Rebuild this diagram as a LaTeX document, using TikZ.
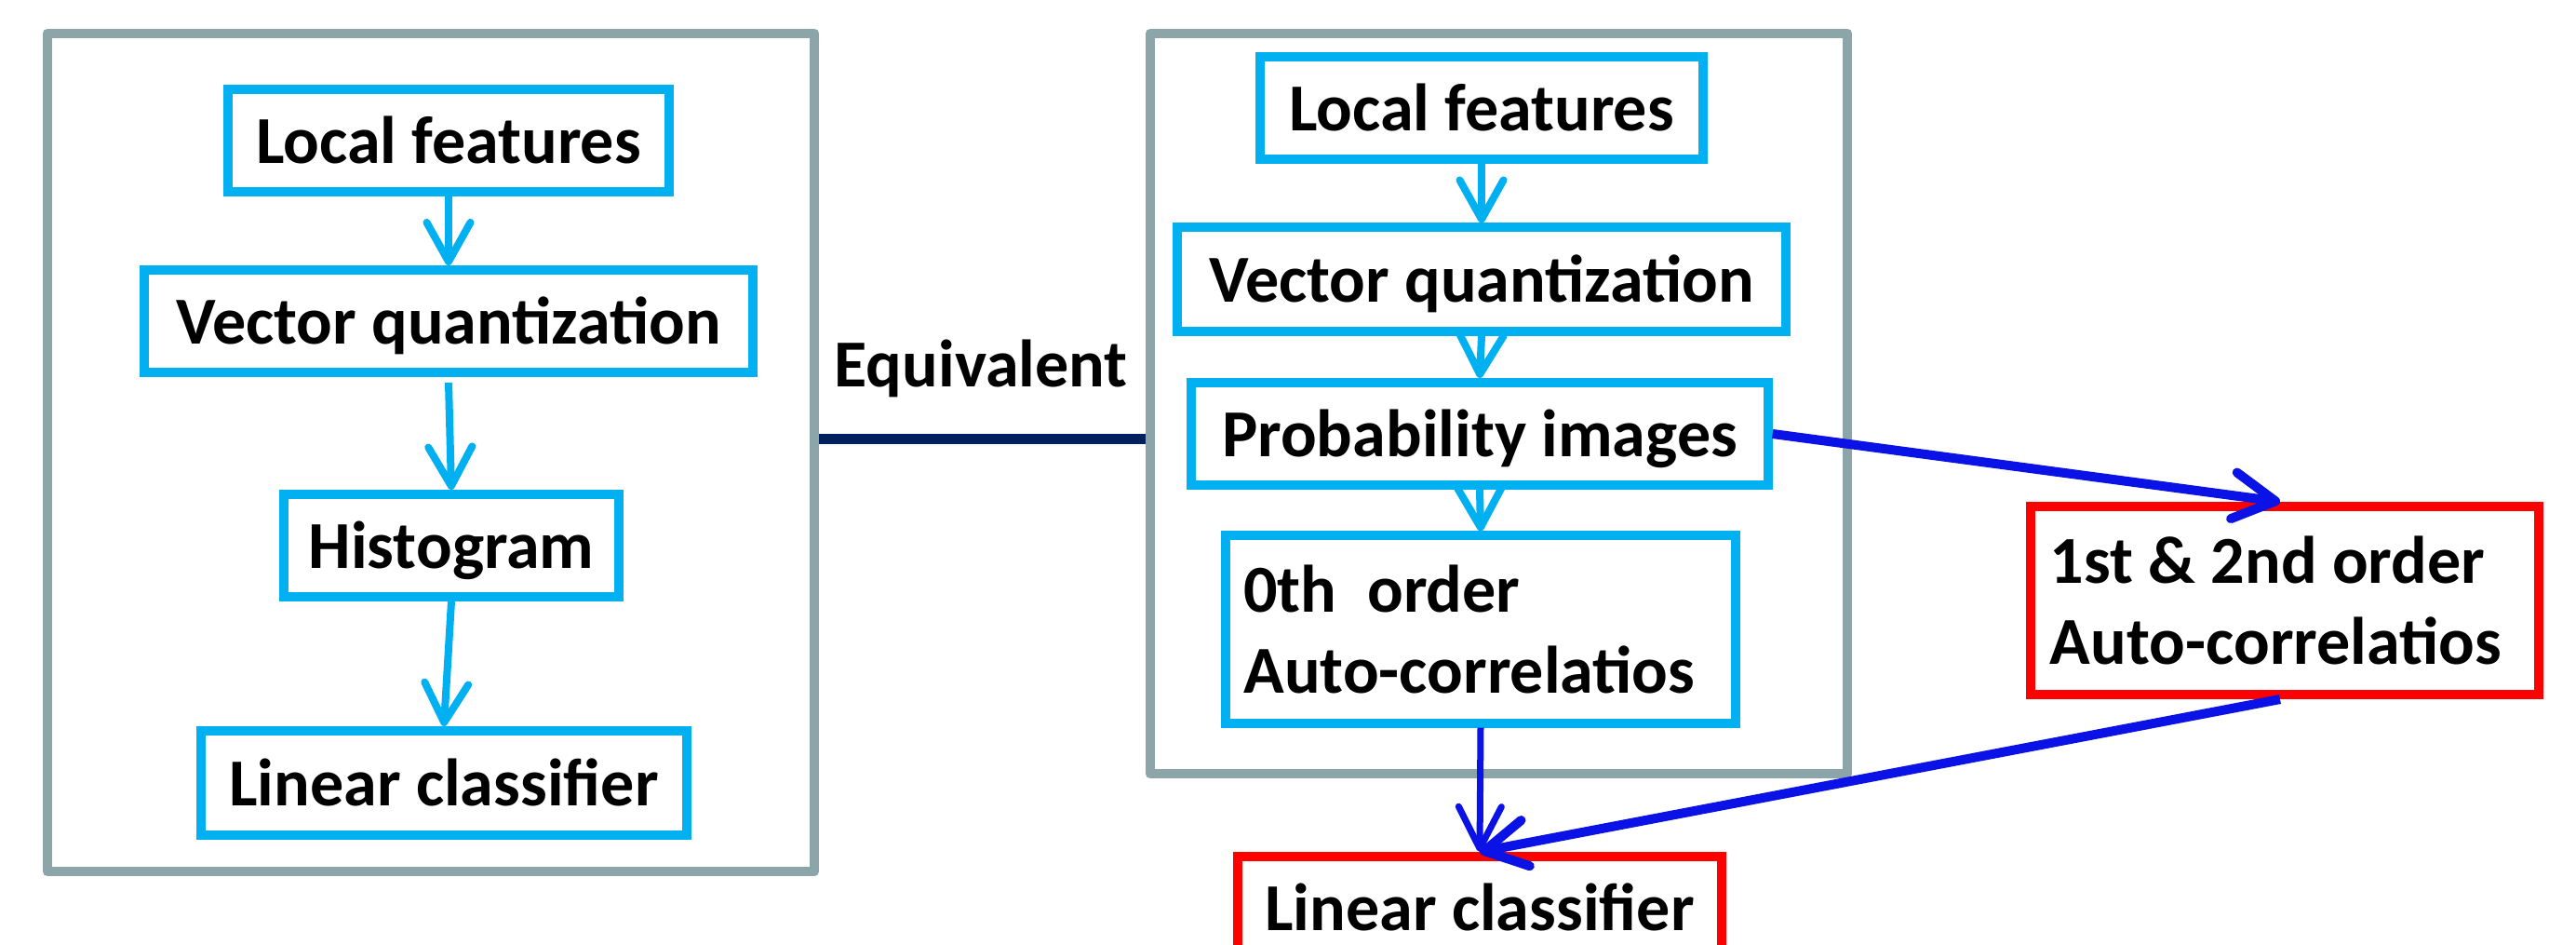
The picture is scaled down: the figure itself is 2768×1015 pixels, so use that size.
\documentclass[tikz,border=0pt]{standalone}
\usepackage{fontspec}
\setmainfont{Carlito}
\usetikzlibrary{arrows.meta}
\definecolor{cyanb}{HTML}{00B0F0}
\definecolor{greyb}{HTML}{8BA5A8}
\definecolor{navyb}{HTML}{002060}
\definecolor{blueb}{HTML}{0A12E6}
\definecolor{redb}{HTML}{FF0000}
\begin{document}
\begin{tikzpicture}[x=0.01cm,y=-0.01cm,
  every node/.style={font=\fontsize{20.5}{25}\selectfont\bfseries},
  frame/.style={draw=greyb,line width=0.1cm,line join=round,inner sep=0pt},
  cbox/.style={draw=cyanb,line width=0.1cm,inner sep=0pt,text height=0.6cm,text depth=0.12cm,minimum height=1.1cm},
  rbox/.style={draw=redb,line width=0.1cm,inner sep=0pt},
  carr/.style={cyanb,line width=0.08cm,-{Straight Barb[length=0.42cm,width=0.47cm,round]}},
  barr/.style={blueb,line width=0.1cm,-{Straight Barb[length=0.45cm,width=0.5cm,round]}},
  bthin/.style={blueb,line width=0.07cm,-{Straight Barb[length=0.45cm,width=0.46cm,round]}}
]
\useasboundingbox (0,0) rectangle (2768,1015);
\clip (0,0) rectangle (2768,1015);
% frames
\node[frame,minimum width=8.24cm,minimum height=9.00cm] (L) at (463,486) {};
\node[frame,minimum width=7.49cm,minimum height=7.95cm] (R) at (1610.5,433.5) {};
% left column
\node[cbox,minimum width=4.73cm] (lf1) at (482,151) {Local features};
\node[cbox,minimum width=6.54cm] (vq1) at (482,345) {Vector quantization};
\node[cbox,minimum width=3.59cm] (hi1) at (485,586) {Histogram};
\node[cbox,minimum width=5.22cm,minimum height=1.12cm] (lc1) at (477,841) {Linear classifier};
% right column
\node[cbox,minimum width=4.75cm] (lf2) at (1592,116) {Local features};
\node[cbox,minimum width=6.53cm,minimum height=1.11cm] (vq2) at (1592,300) {Vector quantization};
\node[cbox,minimum width=6.19cm] (pi2) at (1590,466) {Probability images};
\node[draw=cyanb,line width=0.1cm,inner xsep=0.19cm,inner ysep=0pt,text width=5.09cm,align=flush left,minimum height=2.01cm] (ac0) at (1591,676) {0th\ \ order\\Auto-correlatios};
% red boxes
\node[rbox,inner xsep=0.21cm,text width=5.04cm,align=flush left,minimum height=2.02cm] (ac12) at (2455,645) {1st \& 2nd order\\Auto-correlatios};
\node[rbox,minimum width=5.20cm,minimum height=1.1cm,text height=0.6cm,text depth=0.12cm] (lc2) at (1590,975) {Linear classifier};
% equivalent
\node[anchor=base west,inner sep=0pt] (eq) at (896,415) {Equivalent};
\draw[navyb,line width=0.11cm] (L.east |- 0,471) -- (R.west |- 0,471);
% cyan arrows
\draw[carr] (lf1.south) -- (vq1.north);
\draw[carr] ([yshift=-0.06cm]vq1.south) -- (hi1.north);
\draw[carr] (hi1.south) -- (lc1.north);
\draw[carr] (lf2.south) -- (vq2.north);
\draw[carr] (vq2.south) -- (pi2.north);
\draw[carr] (pi2.south) -- (ac0.north);
% blue arrows
\draw[barr] (pi2.east) -- ([xshift=-0.05cm]ac12.north);
\draw[bthin] (ac0.south) -- (lc2.north);
\draw[barr] ([xshift=-0.05cm]ac12.south) -- (lc2.north);
\end{tikzpicture}
\end{document}
